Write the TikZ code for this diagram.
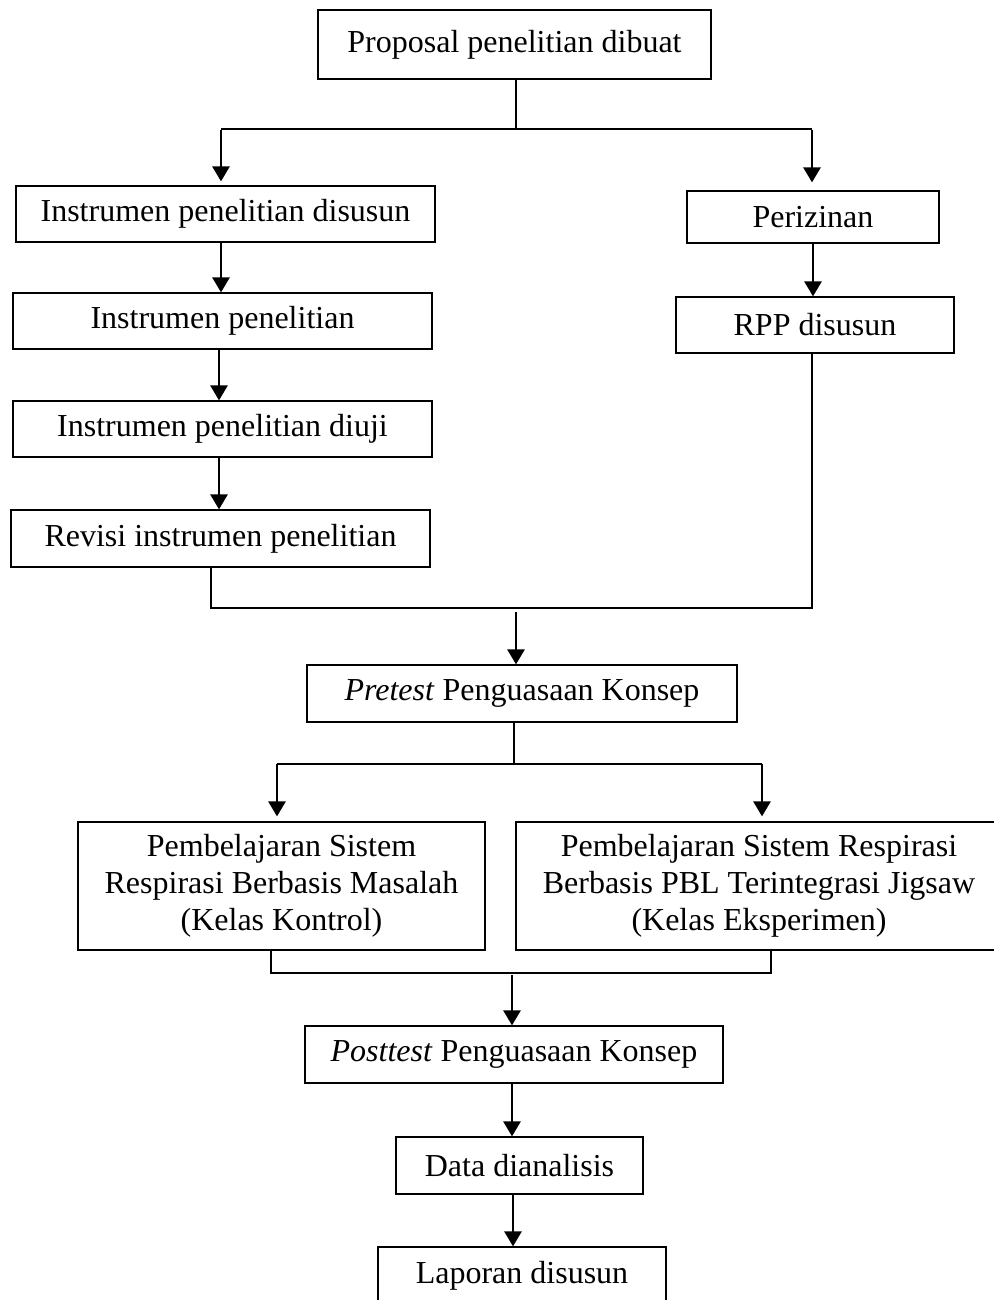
\documentclass[tikz,border=0pt]{standalone}
\usepackage{fontspec}
\setmainfont{Liberation Serif}
\usetikzlibrary{arrows.meta}
\tikzset{
  box/.style={draw, line width=0.6pt, inner sep=0pt, align=center,
    font=\fontsize{16pt}{18.4pt}\selectfont},
  conn/.style={line width=0.6pt},
  arr/.style={line width=1.35pt, -{Triangle[length=7.5pt,width=8.5pt]}},
}
\begin{document}
\begin{tikzpicture}[x=0.5pt,y=-0.5pt]
\useasboundingbox (0,0) rectangle (994,1300);
% nodes
\node[box, minimum width=196.5pt, minimum height=34.5pt] (P) at (514.5,44.5) {Proposal penelitian dibuat};
\node[box, minimum width=209.5pt, minimum height=28pt] (A1) at (225.5,214) {Instrumen penelitian disusun};
\node[box, minimum width=209.5pt, minimum height=28pt] (A2) at (222.5,321) {Instrumen penelitian};
\node[box, minimum width=209.5pt, minimum height=28pt] (A3) at (222.5,429) {Instrumen penelitian diuji};
\node[box, minimum width=209.5pt, minimum height=28.5pt] (A4) at (220.5,538.5) {Revisi instrumen penelitian};
\node[box, minimum width=126pt, minimum height=26pt] (B1) at (813,217) {Perizinan};
\node[box, minimum width=139pt, minimum height=28pt] (B2) at (815,325) {RPP disusun};
\node[box, minimum width=215pt, minimum height=28.5pt] (Pre) at (522,693.5) {\textit{Pretest} Penguasaan Konsep};
\node[box, minimum width=203.5pt, minimum height=64pt] (C1) at (281.5,886) {Pembelajaran Sistem\\Respirasi Berbasis Masalah\\(Kelas Kontrol)};
\node[box, minimum width=243pt, minimum height=64pt] (C2) at (759,886) {Pembelajaran Sistem Respirasi\\Berbasis PBL Terintegrasi Jigsaw\\(Kelas Eksperimen)};
\node[box, minimum width=209pt, minimum height=28.5pt] (Post) at (514,1054.5) {\textit{Posttest} Penguasaan Konsep};
\node[box, minimum width=123.5pt, minimum height=28.5pt] (D) at (519.5,1165.5) {Data dianalisis};
\node[box, minimum width=144pt, minimum height=28.5pt] (L) at (522,1275.5) {Laporan disusun};
% junction coordinates
\coordinate (t0) at (516,129);
\coordinate (tl) at (221,129);
\coordinate (tr) at (812,129);
\coordinate (ml) at (211,608);
\coordinate (mr) at (812,608);
\coordinate (mc) at (516,612);
\coordinate (p0) at (514,764);
\coordinate (pl) at (277,764);
\coordinate (pr) at (762,764);
\coordinate (bl) at (271,973);
\coordinate (br) at (771,973);
\coordinate (bc) at (512,975);
% top split
\draw[conn] (P.south -| t0) -- (t0);
\draw[conn] (tl) -- (tr);
\draw[arr, shorten >=2pt] (tl) ++(0,1) -- (tl |- A1.north);
\draw[arr, shorten >=4pt] (tr) ++(0,1) -- (tr |- B1.north);
% left column
\draw[arr] (A1.south -| tl) -- (tl |- A2.north);
\draw[arr] (A2.south -| 219,0) -- (A3.north -| 219,0);
\draw[arr] (A3.south -| 219,0) -- (A4.north -| 219,0);
% right column
\draw[arr] (B1.south -| 813,0) -- (B2.north -| 813,0);
% merge
\draw[conn] (A4.south -| ml) -- (ml) -- (mr) -- (B2.south -| mr);
\draw[arr] (mc) -- (mc |- Pre.north);
% second split
\draw[conn] (Pre.south -| p0) -- (p0);
\draw[conn] (pl) -- (pr);
\draw[arr, shorten >=2.5pt] (pl) -- (pl |- C1.north);
\draw[arr, shorten >=2.5pt] (pr) -- (pr |- C2.north);
% second merge
\draw[conn] (C1.south -| bl) -- (bl) -- (br) -- (C2.south -| br);
\draw[arr] (bc) -- (bc |- Post.north);
% bottom chain
\draw[arr] (Post.south -| 512,0) -- (D.north -| 512,0);
\draw[arr] (D.south -| 513,0) -- (L.north -| 513,0);
\end{tikzpicture}
\end{document}
